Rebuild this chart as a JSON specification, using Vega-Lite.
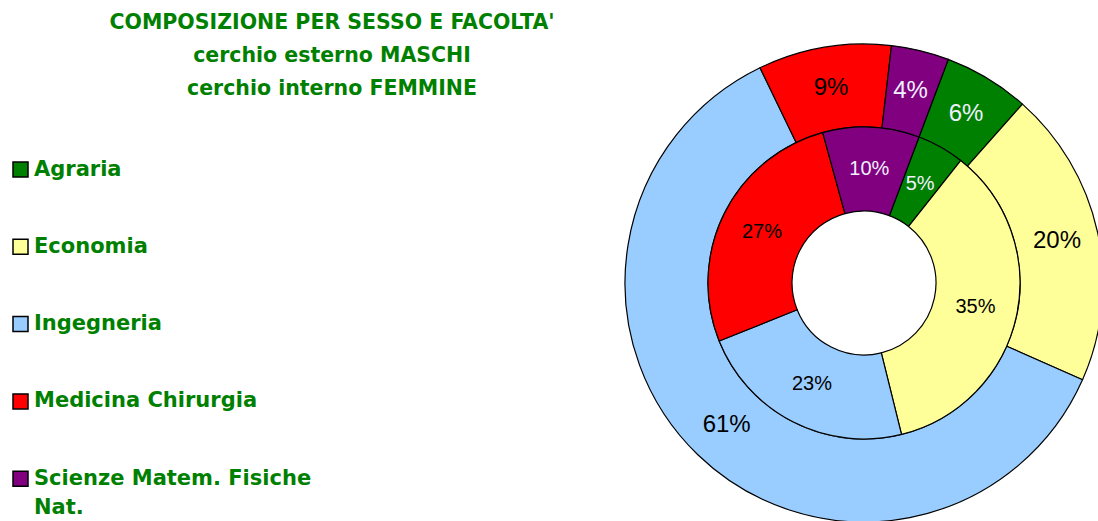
{
  "$schema": "https://vega.github.io/schema/vega-lite/v6.json",
  "autosize": {"type": "none"},
  "width": 468,
  "height": 476,
  "padding": {"left": 630, "top": 45, "right": 0, "bottom": 0},
  "background": "white",
  "title": {
    "text": ["COMPOSIZIONE PER SESSO E FACOLTA'", "cerchio esterno MASCHI", "cerchio interno FEMMINE"],
    "anchor": "start",
    "align": "center",
    "frame": "group",
    "orient": "top",
    "dx": -298,
    "dy": 58,
    "offset": 0,
    "font": "DejaVu Sans",
    "fontSize": 20.5,
    "fontWeight": "bold",
    "color": "#008000",
    "lineHeight": 33
  },
  "data": {
    "values": [
      {"sesso": "M", "facolta": "Agraria", "pct": 5.8, "label": "6%"},
      {"sesso": "M", "facolta": "Economia", "pct": 20.1, "label": "20%"},
      {"sesso": "M", "facolta": "Ingegneria", "pct": 61.2, "label": "61%"},
      {"sesso": "M", "facolta": "Medicina Chirurgia", "pct": 9.0, "label": "9%"},
      {"sesso": "M", "facolta": "Scienze Matem. Fisiche Nat.", "pct": 3.9, "label": "4%"},
      {"sesso": "F", "facolta": "Agraria", "pct": 4.9, "label": "5%"},
      {"sesso": "F", "facolta": "Economia", "pct": 35.5, "label": "35%"},
      {"sesso": "F", "facolta": "Ingegneria", "pct": 22.8, "label": "23%"},
      {"sesso": "F", "facolta": "Medicina Chirurgia", "pct": 26.8, "label": "27%"},
      {"sesso": "F", "facolta": "Scienze Matem. Fisiche Nat.", "pct": 10.0, "label": "10%"}
    ]
  },
  "encoding": {
    "theta": {
      "field": "pct",
      "type": "quantitative",
      "stack": true,
      "scale": {"domain": [0, 100], "range": [0.3604, 6.6436]}
    },
    "order": {"field": "facolta", "type": "nominal", "sort": "ascending"}
  },
  "layer": [
    {
      "transform": [{"filter": "datum.sesso == 'M'"}],
      "mark": {"type": "arc", "radius": 239, "radius2": 156, "stroke": "black", "strokeWidth": 1.2},
      "encoding": {
        "color": {
          "field": "facolta",
          "type": "nominal",
          "scale": {
            "domain": ["Agraria", "Economia", "Ingegneria", "Medicina Chirurgia", "Scienze Matem. Fisiche Nat."],
            "range": ["#008000", "#FFFF99", "#99CCFF", "#FF0000", "#800080"]
          },
          "legend": {
            "title": null,
            "orient": "none",
            "legendX": -620,
            "legendY": 114,
            "direction": "vertical",
            "padding": 0,
            "symbolType": "square",
            "symbolSize": 225,
            "symbolStrokeColor": "black",
            "symbolStrokeWidth": 1.5,
            "labelFont": "DejaVu Sans",
            "labelFontSize": 21,
            "labelFontWeight": "bold",
            "labelColor": "#008000",
            "labelOffset": 3,
            "labelLimit": 400,
            "rowPadding": 55.3,
            "labelExpr": "datum.label == 'Scienze Matem. Fisiche Nat.' ? ['Scienze Matem. Fisiche', 'Nat.'] : datum.label",
            "encode": {
              "labels": {"update": {"lineHeight": {"value": 29}}}
            }
          }
        }
      }
    },
    {
      "transform": [{"filter": "datum.sesso == 'F'"}],
      "mark": {"type": "arc", "radius": 156, "radius2": 72, "stroke": "black", "strokeWidth": 1.2},
      "encoding": {
        "color": {"field": "facolta", "type": "nominal"}
      }
    },
    {
      "transform": [{"filter": "datum.sesso == 'M'"}],
      "mark": {"type": "text", "radius": 197.5, "font": "Liberation Sans", "fontSize": 24},
      "encoding": {
        "text": {"field": "label"},
        "fill": {
          "condition": {"test": "datum.facolta == 'Agraria' || datum.facolta == 'Scienze Matem. Fisiche Nat.'", "value": "#f0f0ff"},
          "value": "black"
        }
      }
    },
    {
      "transform": [{"filter": "datum.sesso == 'F'"}],
      "mark": {"type": "text", "radius": 114, "font": "Liberation Sans", "fontSize": 20},
      "encoding": {
        "text": {"field": "label"},
        "fill": {
          "condition": {"test": "datum.facolta == 'Agraria' || datum.facolta == 'Scienze Matem. Fisiche Nat.'", "value": "#f0f0ff"},
          "value": "black"
        }
      }
    }
  ]
}
